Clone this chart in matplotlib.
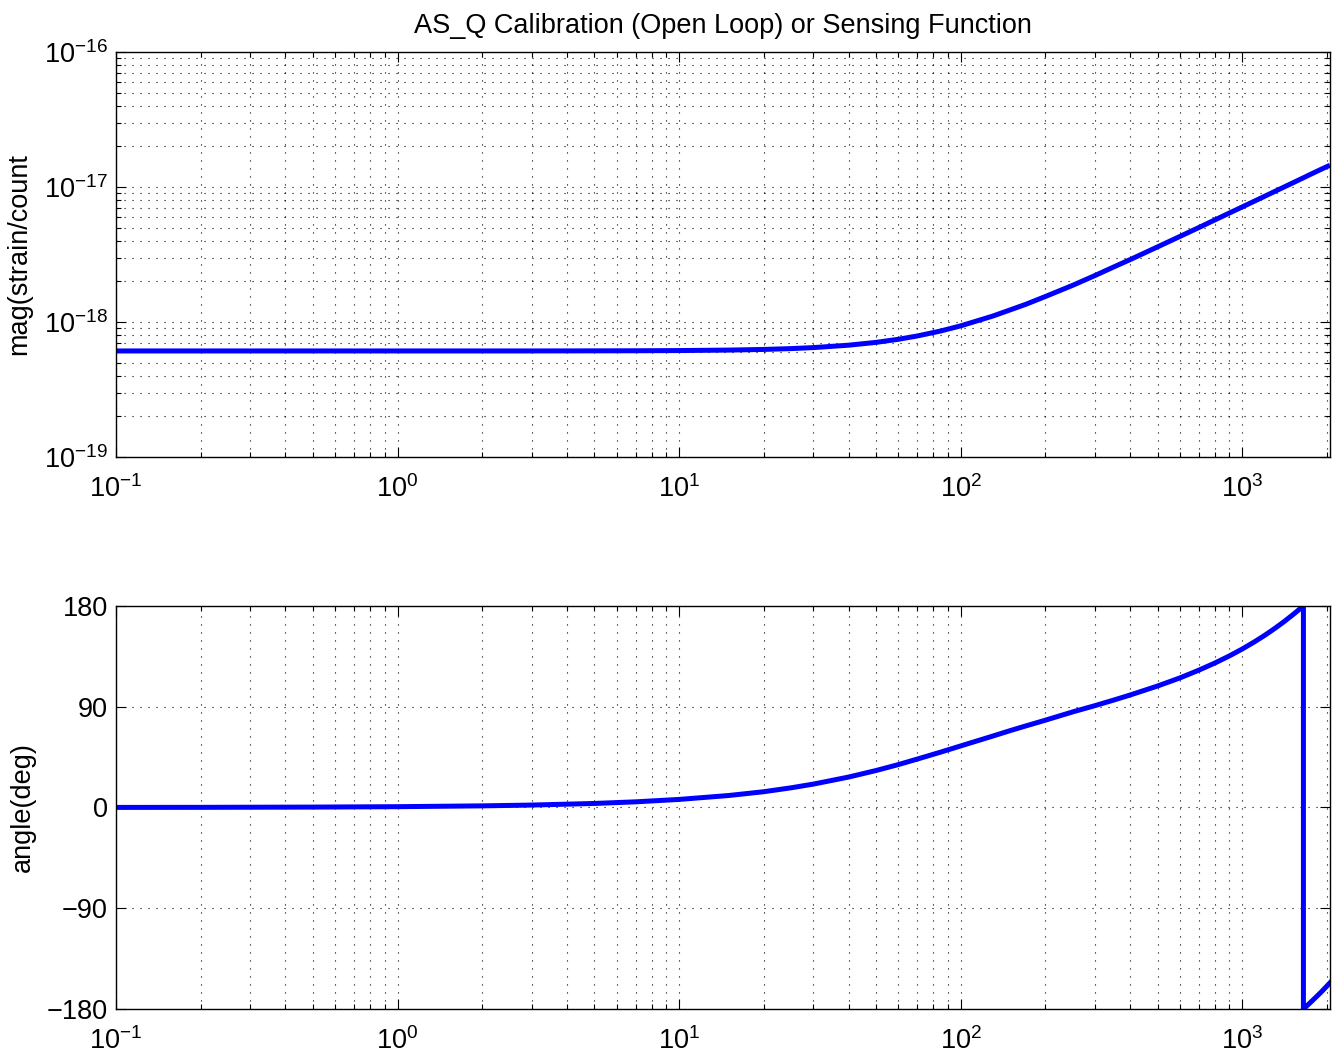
import numpy as np
import matplotlib
matplotlib.use("Agg")
import matplotlib.pyplot as plt
from matplotlib.ticker import LogLocator, FixedLocator, FuncFormatter, NullFormatter

# ---- data ----
freq_mag = [0.1, 0.2, 0.5, 1, 2, 3, 5, 7, 10, 15, 20, 25, 30, 40, 50, 60, 70, 85, 100,
            130, 150, 170, 200, 250, 300, 350, 400, 500, 600, 700, 800, 1000, 1200,
            1300, 1500, 1648, 1750, 1900, 2048]
magnitude = [6.1e-19, 6.1e-19, 6.1e-19, 6.1e-19, 6.1e-19, 6.1e-19, 6.11e-19, 6.12e-19,
             6.14e-19, 6.19e-19, 6.26e-19, 6.35e-19, 6.46e-19, 6.73e-19, 7.06e-19,
             7.44e-19, 7.87e-19, 8.58e-19, 9.36e-19, 1.106e-18, 1.23e-18, 1.35e-18,
             1.545e-18, 1.87e-18, 2.21e-18, 2.56e-18, 2.90e-18, 3.60e-18, 4.30e-18,
             5.00e-18, 5.71e-18, 7.12e-18, 8.53e-18, 9.24e-18, 1.065e-17, 1.17e-17,
             1.243e-17, 1.349e-17, 1.45e-17]

freq_phase = [0.1, 0.2, 0.5, 1, 2, 3, 5, 7, 10, 15, 20, 25, 30, 40, 50, 60, 70, 85, 100,
              130, 150, 170, 200, 250, 300, 350, 400, 500, 600, 700, 800, 900, 1000, 1100,
              1200, 1300, 1400, 1500, 1550, 1600, 1648, 1648, 1750, 1900, 2048]
phase_deg = [0.07, 0.14, 0.36, 0.72, 1.45, 2.17, 3.6, 5.05, 7.2, 10.7, 14.1, 17.6, 20.9,
             27.2, 33.0, 38.3, 43.2, 49.5, 55.0, 63.8, 68.7, 72.8, 78.0, 85.4, 91.0, 96.0,
             100.5, 108.5, 115.7, 122.6, 129.1, 135.4, 141.6, 147.7, 153.7, 159.7, 165.6,
             171.5, 174.4, 177.3, 180.0, -180.0, -173.9, -165.2, -156.6]

title = "AS_Q Calibration (Open Loop) or Sensing Function"
ylabel_mag = "mag(strain/count"
ylabel_phase = "angle(deg)"
phase_ticks = [-180, -90, 0, 90, 180]

# ---- style ----
plt.rcParams['font.family'] = ['Liberation Sans', 'DejaVu Sans']
plt.rcParams['mathtext.fontset'] = 'custom'
plt.rcParams['mathtext.rm'] = 'Liberation Sans'
plt.rcParams['mathtext.it'] = 'Liberation Sans'
plt.rcParams['mathtext.default'] = 'regular'

FS = 19.5
GRID = dict(linestyle=(0, (1, 6.2)), color='black', linewidth=0.8)
fig = plt.figure(figsize=(13.36, 10.59), dpi=100)
ax1 = fig.add_axes([0.0868, 0.5685, 0.9087, 0.3824])
ax2 = fig.add_axes([0.0868, 0.0472, 0.9087, 0.3806])

blue = (0, 0, 1)


def pow10(v, pos):
    e = int(round(np.log10(v)))
    return r"$10^{%d}$" % e


for ax in (ax1, ax2):
    ax.set_xscale('log')
    ax.set_xlim(0.1, 2048)
    ax.xaxis.set_major_locator(LogLocator(base=10, numticks=20))
    ax.xaxis.set_minor_locator(LogLocator(base=10, subs=np.arange(2, 10), numticks=20))
    ax.xaxis.set_major_formatter(FuncFormatter(pow10))
    ax.xaxis.set_minor_formatter(NullFormatter())
    ax.tick_params(which='both', direction='in', top=True, right=True, labelsize=FS,
                   width=0.8, color='black')
    ax.tick_params(which='major', length=7)
    ax.tick_params(which='minor', length=3.5)
    ax.tick_params(axis='x', which='major', pad=13)
    ax.tick_params(axis='y', which='major', pad=6)
    for s in ax.spines.values():
        s.set_linewidth(1.0)
        s.set_color('black')
    ax.set_axisbelow(True)

# magnitude
ax1.set_yscale('log')
ax1.set_ylim(1e-19, 1e-16)
ax1.yaxis.set_major_locator(LogLocator(base=10, numticks=10))
ax1.yaxis.set_minor_locator(LogLocator(base=10, subs=np.arange(2, 10), numticks=10))
ax1.yaxis.set_major_formatter(FuncFormatter(pow10))
ax1.yaxis.set_minor_formatter(NullFormatter())
ax1.grid(True, which='both', axis='both', **GRID)
ax1.plot(freq_mag, magnitude, color=blue, linewidth=3.6, solid_capstyle='butt')
ax1.set_title(title, fontsize=FS, pad=14)
ax1.set_ylabel(ylabel_mag, fontsize=FS, labelpad=8)

# phase
ax2.set_ylim(-180, 180)
ax2.yaxis.set_major_locator(FixedLocator(phase_ticks))
ax2.grid(True, which='both', axis='x', **GRID)
ax2.grid(True, which='major', axis='y', **GRID)
ax2.plot(freq_phase, phase_deg, color=blue, linewidth=3.6, solid_joinstyle='miter')
ax2.set_ylabel(ylabel_phase, fontsize=FS, labelpad=8)

fig.savefig("out.png", dpi=100)
